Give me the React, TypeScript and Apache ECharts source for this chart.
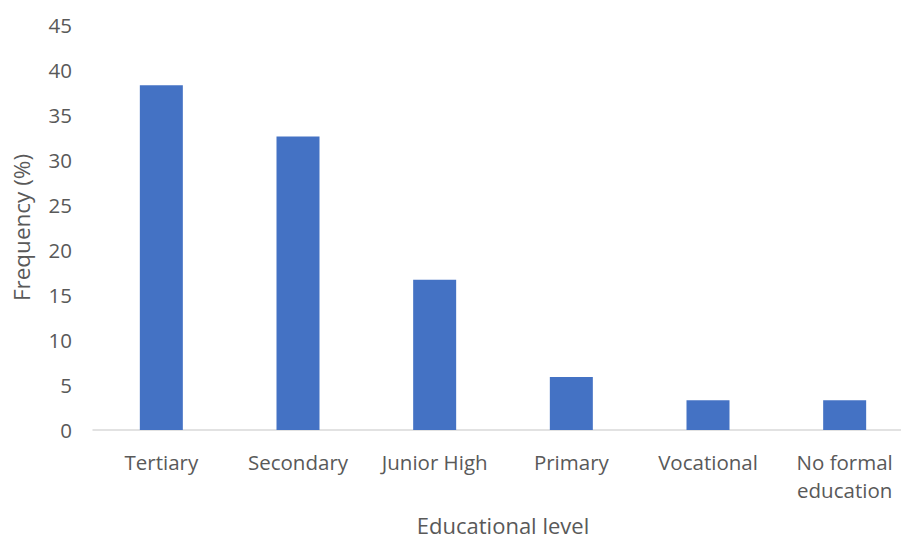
import React, { useEffect, useRef } from "react";
import * as echarts from "echarts";

const categories = ["Tertiary", "Secondary", "Junior High", "Primary", "Vocational", "No formal\neducation"];
const frequency = [38.3, 32.6, 16.7, 5.9, 3.3, 3.3];
const yTicks = { min: 0, max: 45, interval: 5 };

export default function App() {
  const ref = useRef<HTMLDivElement>(null);
  useEffect(() => {
    if (!ref.current) return;
    const chart = echarts.init(ref.current, null, { renderer: "svg" });
    const font = "'Open Sans', 'Segoe UI', sans-serif";
    chart.setOption({
      animation: false,
      backgroundColor: "#ffffff",
      grid: { left: 93, right: 0, top: 25, bottom: 111, outerBoundsMode: "none", containLabel: false },
      xAxis: {
        type: "category",
        data: categories,
        axisLine: { lineStyle: { color: "#d9d9d9", width: 1.5 } },
        axisTick: { show: false },
        axisLabel: { color: "#595959", fontSize: 20.5, fontFamily: font, lineHeight: 28, margin: 18, interval: 0 },
        name: "Educational level",
        nameLocation: "middle",
        nameGap: 83,
        nameTextStyle: { color: "#595959", fontSize: 22, fontFamily: font, lineHeight: 24 },
      },
      yAxis: {
        type: "value",
        min: yTicks.min,
        max: yTicks.max,
        interval: yTicks.interval,
        splitLine: { show: false },
        axisLine: { show: false },
        axisTick: { show: false },
        axisLabel: { color: "#595959", fontSize: 20.5, fontFamily: font, margin: 21 },
        name: "Frequency (%)",
        nameLocation: "middle",
        nameGap: 60,
        nameTextStyle: { color: "#595959", fontSize: 22.5, fontFamily: font },
      },
      series: [
        {
          type: "bar",
          data: frequency,
          barWidth: 43,
          itemStyle: { color: "#4472c4" },
        },
      ],
    });
    return () => chart.dispose();
  }, []);
  return (
    <div style={{ width: 901, height: 541, position: "absolute", left: 0, top: 0, overflow: "hidden" }}>
      <div ref={ref} style={{ width: 913, height: 541 }} />
    </div>
  );
}
